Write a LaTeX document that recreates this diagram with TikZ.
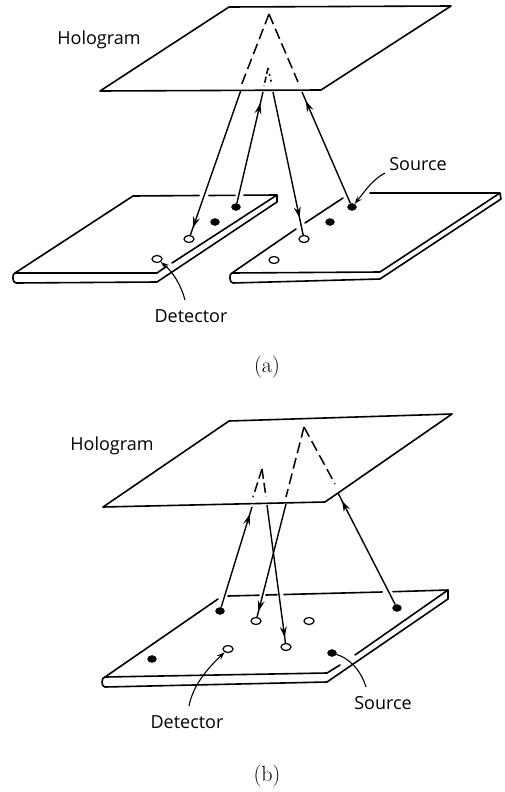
\documentclass[tikz,border=0pt]{standalone}
\usepackage{fontspec}
\setsansfont{Open Sans}
\usetikzlibrary{shapes.geometric, arrows.meta, decorations.markings}

\begin{document}
\begin{tikzpicture}[x=1pt, y=-1pt,
  edge/.style={line width=1.6pt, line cap=round, line join=round},
  virtual/.style={line width=1.5pt, dash pattern=on 11pt off 5pt},
  label/.style={font=\sffamily\fontsize{18}{20}\selectfont, inner sep=0pt},
  caption/.style={font=\fontsize{22}{24}\selectfont, inner sep=0pt},
  source/.style={ellipse, fill=black, draw=black, minimum width=9pt, minimum height=7pt, inner sep=0pt},
  detector/.style={ellipse, fill=white, draw=black, line width=1.2pt, minimum width=10pt, minimum height=7pt, inner sep=0pt},
  ray/.style={line width=1.4pt, postaction={decorate}, decoration={markings,
    mark=at position #1 with {\arrow{Stealth[length=11pt, width=7pt, inset=4pt]}}}},
  leader/.style={line width=1.1pt}
]
\useasboundingbox (0,0) rectangle (504,792);
% (a) hologram
\draw[edge] (229,7) -- (451,6) -- (321,90) -- (100,91) -- cycle;
\node[label] (hologramA) at (99,40) {Hologram};
\coordinate (apexA) at (269,14);
\coordinate (innerA) at (268,68);
\coordinate (hitA1) at (241,90);
\coordinate (hitA2) at (263,92);
\coordinate (hitA3) at (273,92);
\coordinate (hitA4) at (302,92);
\draw[virtual] (apexA) -- (241,86);
\draw[virtual] (apexA) -- (298,82);
\draw[line width=1.5pt, dash pattern=on 6pt off 3pt] (innerA) -- (264,86);
\draw[line width=1.5pt, dash pattern=on 2pt off 4pt] (innerA) -- (272,85);
% (a) left plate
\draw[edge] (133,196) -- (199,195.5);
\draw[edge] (209,195.5) -- (235,195.3);
\draw[edge] (244,195.2) -- (277,195) -- (277,202) -- (157,282) -- (16,283)
  .. controls (12,283) and (12,273) .. (15,273) -- (157,273) -- (167,266);
\draw[edge] (172,263) -- (277,195);
\draw[edge] (15,273) -- (133,196);
% (a) right plate
\draw[edge] (370,193) -- (500,193) -- (501,199) -- (380,279) -- (233,283)
  .. controls (229,283) and (229,273) .. (232,273) -- (380,272) -- (500,193);
\draw[edge] (232,273) -- (296,229);
\draw[edge] (305,223) -- (343,198);
% (a) dots
\node[detector] (detA1) at (189,239) {};
\node[detector] (detA2) at (157,259) {};
\node[source] (srcA1) at (236,207) {};
\node[source] (srcA2) at (215,222) {};
\node[detector] (detA3) at (304,239) {};
\node[detector] (detA4) at (274,260) {};
\node[source] (srcA3) at (352,207) {};
\node[source] (srcA4) at (330,222) {};
\draw[ray=0.95] (hitA1) -- (detA1);
\draw[ray=0.9] (srcA1) -- (hitA2);
\draw[ray=0.88] (hitA3) -- (detA3);
\draw[ray=0.92] (srcA3) -- (hitA4);
\node[label] (sourceA) at (418,164) {Source};
\node[label] (detectorA) at (191,316) {Detector};
\coordinate (leadA1) at (385,173);
\coordinate (leadA2) at (185,300);
\draw[leader, -{Stealth[length=8pt, width=5.5pt, inset=3pt]}] (leadA1) .. controls (372,180) and (366,190) .. (srcA3);
\draw[leader, -{Stealth[length=8pt, width=5.5pt, inset=3pt]}] (leadA2) .. controls (181,285) and (173,272) .. (detA2);
\node[caption] (captionA) at (267,367) {(a)};
% (b) hologram
\draw[edge] (229,421) -- (452,414) -- (325,502) -- (103,507) -- cycle;
\node[label] (hologramB) at (112,446) {Hologram};
\coordinate (apexB) at (304,427);
\coordinate (innerB) at (262,469);
\coordinate (hitB1) at (252,507);
\coordinate (hitB2) at (286,504);
\coordinate (hitB3) at (267,505);
\coordinate (hitB4) at (338,493);
\draw[virtual] (apexB) -- (286,497);
\draw[virtual] (apexB) -- (335,484);
\draw[line width=1.5pt, dash pattern=on 10pt off 4pt] (innerB) -- (253,497);
\draw[line width=1.5pt, dash pattern=on 10pt off 4pt] (innerB) -- (266,497);
% (b) plate
\draw[edge] (218,599) -- (105,677) -- (327,673) -- (340,665);
\draw[edge] (228,596) -- (259,595.2);
\draw[edge] (266,595) -- (277,594.7);
\draw[edge] (284,594.5) -- (382,592);
\draw[edge] (393,591.7) -- (448,590) -- (448,599) -- (327,682) -- (105,687)
  .. controls (101,687) and (101,677) .. (105,677);
\draw[edge] (355,655) -- (448,590);
% (b) dots
\node[source] (srcB1) at (220,611) {};
\node[detector] (detB1) at (256,621) {};
\node[detector] (detB2) at (309,621) {};
\node[source] (srcB2) at (397,608) {};
\node[source] (srcB3) at (152,659) {};
\node[detector] (detB3) at (228,649) {};
\node[detector] (detB4) at (286,647) {};
\node[source] (srcB4) at (332,653) {};
\draw[ray=0.93] (srcB1) -- (hitB1);
\draw[ray=0.95] (hitB2) -- (detB1);
\draw[ray=0.96] (hitB3) -- (detB4);
\draw[ray=0.93] (srcB2) -- (hitB4);
\node[label] (sourceB) at (383,703) {Source};
\node[label] (detectorB) at (187,722) {Detector};
\coordinate (leadB1) at (189,706);
\coordinate (leadB2) at (366,687);
\draw[leader, -{Stealth[length=8pt, width=5.5pt, inset=3pt]}] (leadB1) .. controls (193,685) and (208,668) .. (detB3);
\draw[leader] (leadB2) .. controls (360,668) and (348,658) .. (srcB4);
\node[caption] (captionB) at (267,776) {(b)};
\end{tikzpicture}
\end{document}
